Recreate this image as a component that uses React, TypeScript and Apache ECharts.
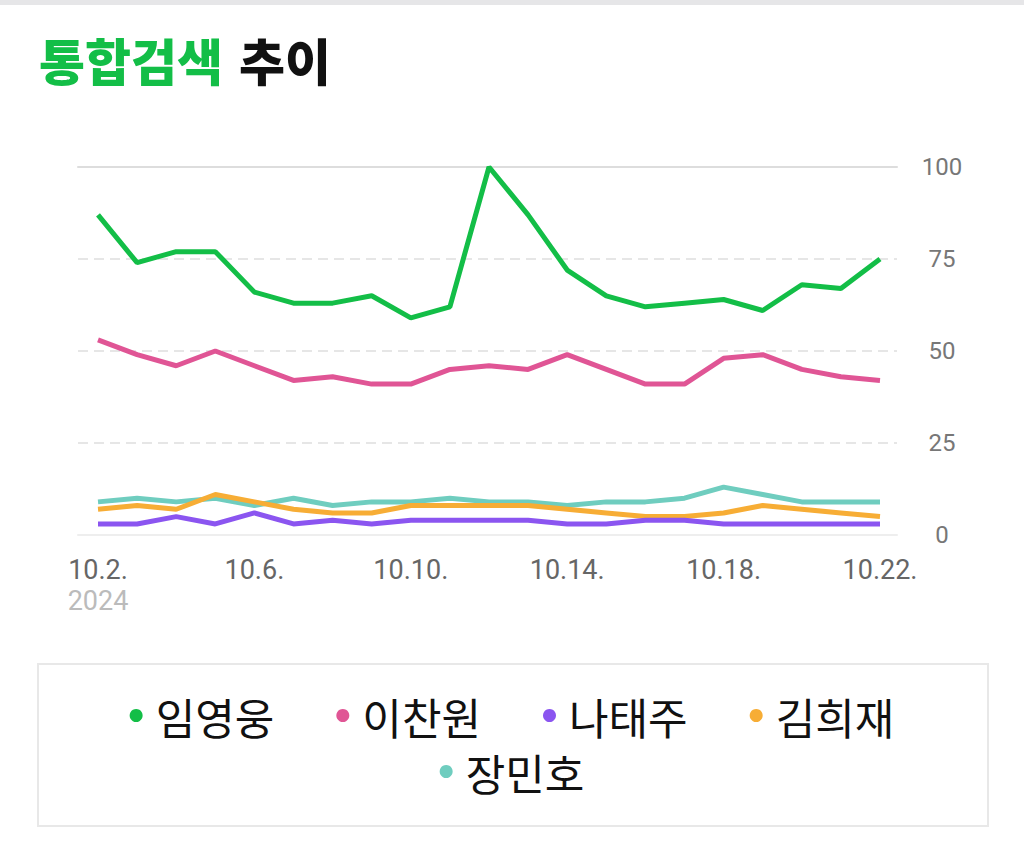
import React, { useEffect, useRef } from 'react';
import * as echarts from 'echarts';

const dates = ['10.2.', '10.3.', '10.4.', '10.5.', '10.6.', '10.7.', '10.8.', '10.9.', '10.10.', '10.11.', '10.12.', '10.13.', '10.14.', '10.15.', '10.16.', '10.17.', '10.18.', '10.19.', '10.20.', '10.21.', '10.22.'];
const yearLabel = '2024';
const names = ['임영웅', '이찬원', '나태주', '김희재', '장민호'];
const limYoungwoong = [87, 74, 77, 77, 66, 63, 63, 65, 59, 62, 100, 87, 72, 65, 62, 63, 64, 61, 68, 67, 75];
const leeChanwon = [53, 49, 46, 50, 46, 42, 43, 41, 41, 45, 46, 45, 49, 45, 41, 41, 48, 49, 45, 43, 42];
const naTaeju = [3, 3, 5, 3, 6, 3, 4, 3, 4, 4, 4, 4, 3, 3, 4, 4, 3, 3, 3, 3, 3];
const kimHeejae = [7, 8, 7, 11, 9, 7, 6, 6, 8, 8, 8, 8, 7, 6, 5, 5, 6, 8, 7, 6, 5];
const jangMinho = [9, 10, 9, 10, 8, 10, 8, 9, 9, 10, 9, 9, 8, 9, 9, 10, 13, 11, 9, 9, 9];
const seriesValues = [limYoungwoong, leeChanwon, naTaeju, kimHeejae, jangMinho];
const colors = ['#13be47', '#e05595', '#8b55f0', '#f7ad35', '#6fcdbf'];

const KR = '"Noto Sans CJK KR", "Noto Sans", sans-serif';
const NUM = 'Roboto, "Noto Sans CJK KR", sans-serif';

export default function App() {
  const ref = useRef<HTMLDivElement>(null);
  useEffect(() => {
    if (!ref.current) return;
    const chart = echarts.init(ref.current, null, { renderer: 'svg' });
    const gridTop = 167;
    const gridBottom = 846 - 535;
    chart.setOption({
      animation: false,
      backgroundColor: '#ffffff',
      title: {
        text: '{g|통합검색}{k|추이}',
        left: 34,
        top: 29,
        textStyle: {
          rich: {
            g: { fontFamily: KR, fontWeight: 900, fontSize: 50, color: '#13be47' },
            k: { fontFamily: KR, fontWeight: 900, fontSize: 50, color: '#111111', padding: [0, 0, 0, 16] },
          },
        },
      },
      graphic: [
        { type: 'rect', shape: { x: 0, y: 0, width: 1024, height: 5 }, style: { fill: '#e6e6e8' }, silent: true },
        {
          type: 'rect',
          shape: { x: 38, y: 664, width: 950, height: 162 },
          style: { fill: 'none', stroke: '#e8e8e8', lineWidth: 2 },
          silent: true,
        },
      ],
      legend: [
        {
          data: names.slice(0, 4),
          left: 'center',
          top: 689,
          icon: 'circle',
          itemWidth: 13,
          itemHeight: 13,
          itemGap: 62,
          textStyle: { fontFamily: KR, fontSize: 43, color: '#111111', padding: [0, 0, 0, 8] },
        },
        {
          data: names.slice(4),
          left: 'center',
          top: 745,
          icon: 'circle',
          itemWidth: 13,
          itemHeight: 13,
          textStyle: { fontFamily: KR, fontSize: 43, color: '#111111', padding: [0, 0, 0, 8] },
        },
      ],
      grid: [
        { left: 98, right: 1024 - 880, top: gridTop, bottom: gridBottom },
        { left: 78, right: 1024 - 897, top: gridTop, bottom: gridBottom },
      ],
      xAxis: [
        {
          type: 'category',
          gridIndex: 0,
          data: dates,
          boundaryGap: false,
          axisLine: { show: false },
          axisTick: { show: false },
          splitLine: { show: false },
          axisLabel: {
            interval: 3,
            margin: 20,
            color: '#666666',
            fontFamily: NUM,
            fontSize: 27,
            lineHeight: 30,
            formatter: (v: string, i: number) => (i === 0 ? `${v}\n{y|${yearLabel}}` : v),
            rich: {
              y: { color: '#bbbbbb', fontFamily: NUM, fontSize: 27, lineHeight: 32 },
            },
          },
        },
        {
          type: 'category',
          gridIndex: 1,
          data: dates,
          boundaryGap: false,
          axisLine: { show: true, lineStyle: { color: '#eeeeee', width: 2 } },
          axisTick: { show: false },
          axisLabel: { show: false },
          splitLine: { show: false },
        },
        {
          type: 'category',
          gridIndex: 1,
          position: 'top',
          data: dates,
          boundaryGap: false,
          axisLine: { show: true, lineStyle: { color: '#dddddd', width: 2 } },
          axisTick: { show: false },
          axisLabel: { show: false },
          splitLine: { show: false },
        },
      ],
      yAxis: [
        {
          type: 'value',
          gridIndex: 0,
          min: 0,
          max: 100,
          interval: 25,
          axisLine: { show: false },
          axisTick: { show: false },
          axisLabel: { show: false },
          splitLine: { show: false },
        },
        {
          type: 'value',
          gridIndex: 1,
          position: 'right',
          min: 0,
          max: 100,
          interval: 25,
          axisLine: { show: false },
          axisTick: { show: false },
          axisLabel: {
            margin: 45,
            align: 'center',
            color: '#777777',
            fontFamily: NUM,
            fontSize: 24,
          },
          splitLine: { show: true, lineStyle: { color: '#e6e6e6', width: 2, type: [10, 6] } },
        },
      ],
      series: names.map((n, i) => ({
        name: n,
        type: 'line',
        xAxisIndex: 0,
        yAxisIndex: 0,
        data: seriesValues[i],
        symbol: 'none',
        color: colors[i],
        lineStyle: { width: 5, color: colors[i] },
        z: 10 - i,
      })),
    });
    return () => chart.dispose();
  }, []);
  return <div ref={ref} style={{ position: 'fixed', left: 0, top: 0, width: 1024, height: 846 }} />;
}
